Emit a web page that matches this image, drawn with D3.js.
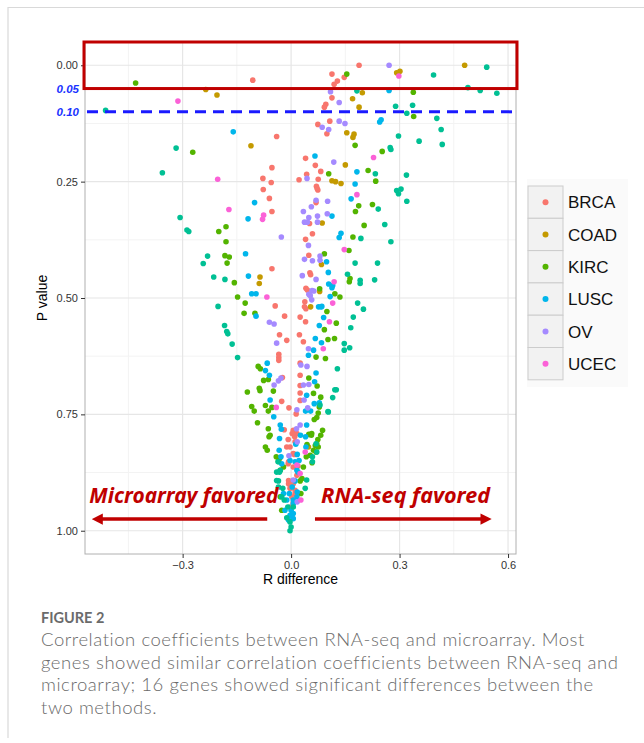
<!DOCTYPE html>
<html>
<head>
<meta charset="utf-8">
<script src="https://cdn.jsdelivr.net/npm/d3@7"></script>
<style>
  body { margin: 0; background: #fff; }
  svg { display: block; font-family: "Liberation Sans", Arial, sans-serif; }
</style>
</head>
<body>
<svg id="chart" width="644" height="743"></svg>
<script>
// series: [R difference, P value]
const categories = ['BRCA', 'COAD', 'KIRC', 'LUSC', 'OV', 'UCEC'];
const colors = ['#F8766D', '#C49A00', '#53B400', '#00B6EB', '#A58AFF', '#FB61D7'];
// one more cancer type is plotted but was left out of the printed legend
const unlistedColor = '#00C094';

const brca = [[-0.106,0.032],[0.188,0.000],[0.113,0.019],[0.147,0.026],[0.128,0.034],[0.119,0.041],[0.113,0.070],[0.096,0.084],[0.092,0.090],[0.074,0.127],[0.107,0.120],[-0.040,0.153],[0.099,0.147],[0.040,0.200],[0.067,0.215],[-0.053,0.220],[0.082,0.228],[0.043,0.234],[-0.078,0.243],[0.022,0.246],[0.075,0.245],[-0.055,0.252],[0.070,0.260],[0.072,0.265],[0.074,0.268],[-0.077,0.267],[-0.060,0.286],[0.069,0.295],[-0.053,0.314],[0.051,0.340],[0.059,0.362],[0.040,0.374],[0.049,0.408],[-0.053,0.437],[0.052,0.446],[0.054,0.450],[0.041,0.479],[0.045,0.483],[-0.044,0.517],[0.037,0.519],[0.038,0.508],[0.041,0.523],[-0.018,0.539],[0.025,0.541],[0.040,0.551],[-0.032,0.579],[-0.012,0.591],[0.023,0.579],[0.034,0.594],[-0.034,0.621],[-0.034,0.628],[-0.034,0.634],[-0.024,0.671],[0.025,0.640],[0.025,0.666],[0.025,0.688],[0.025,0.704],[0.025,0.720],[-0.026,0.722],[-0.006,0.736],[0.014,0.749],[-0.019,0.783],[0.006,0.784],[0.003,0.791],[-0.008,0.804],[-0.012,0.820],[0.010,0.798],[0.009,0.836],[-0.008,0.856],[0.019,0.861],[0.006,0.863],[0.016,0.881],[-0.007,0.899],[0.011,0.920],[0.006,0.940],[-0.007,0.892],[0.006,0.899],[-0.003,0.909],[0.011,0.913],[0.002,0.927],[-0.003,0.949],[0.016,0.791],[0.011,0.809],[-0.003,0.820],[0.006,0.834],[-0.007,0.852]];
const coad = [[-0.236,0.052],[-0.205,0.064],[0.480,0.000],[0.292,0.016],[0.301,0.013],[0.197,0.059],[0.170,0.072],[0.188,0.090],[-0.111,0.173],[0.154,0.145],[0.174,0.148],[0.171,0.155],[0.150,0.214],[0.113,0.248],[0.123,0.250],[0.138,0.254],[0.086,0.339],[0.084,0.428],[-0.086,0.455],[-0.088,0.469],[0.079,0.486],[0.054,0.519],[0.048,0.820]];
const kirc = [[-0.430,0.038],[0.154,0.019],[0.338,0.058],[0.339,0.110],[-0.272,0.187],[0.177,0.172],[0.252,0.185],[0.213,0.226],[0.104,0.233],[0.234,0.249],[0.187,0.302],[0.225,0.299],[0.178,0.314],[0.202,0.344],[-0.200,0.357],[-0.180,0.347],[0.171,0.369],[-0.180,0.379],[0.160,0.398],[-0.183,0.409],[-0.171,0.412],[0.092,0.405],[-0.177,0.425],[0.163,0.458],[0.161,0.465],[-0.157,0.467],[0.079,0.480],[0.121,0.491],[0.135,0.498],[-0.148,0.498],[-0.127,0.511],[-0.130,0.533],[-0.100,0.533],[0.099,0.529],[0.092,0.568],[0.125,0.554],[0.120,0.587],[0.102,0.589],[0.095,0.630],[0.069,0.627],[-0.091,0.647],[-0.085,0.652],[-0.076,0.677],[-0.063,0.675],[-0.088,0.694],[-0.086,0.699],[-0.121,0.702],[-0.049,0.700],[-0.109,0.733],[-0.102,0.743],[-0.093,0.768],[-0.071,0.731],[-0.063,0.743],[-0.053,0.735],[0.049,0.672],[0.072,0.689],[0.082,0.713],[0.062,0.705],[0.078,0.734],[0.071,0.757],[0.064,0.761],[0.075,0.747],[-0.063,0.781],[-0.058,0.795],[-0.061,0.798],[-0.071,0.820],[-0.066,0.827],[-0.041,0.841],[-0.032,0.845],[-0.035,0.851],[0.049,0.793],[0.056,0.795],[0.044,0.815],[0.042,0.841],[0.067,0.817],[0.074,0.804],[0.082,0.795],[0.087,0.784],[0.069,0.831],[0.058,0.854],[0.030,0.888],[0.034,0.863],[0.025,0.893],[0.027,0.920],[-0.030,0.927],[-0.026,0.956],[-0.021,0.863],[-0.030,0.870],[0.057,0.791],[0.071,0.813],[0.062,0.827],[0.075,0.820],[0.053,0.838]];
const lusc = [[0.271,0.054],[0.249,0.117],[0.245,0.122],[-0.160,0.143],[0.066,0.195],[0.182,0.229],[0.177,0.255],[-0.101,0.295],[0.166,0.287],[0.113,0.324],[-0.119,0.330],[0.138,0.361],[0.133,0.370],[-0.126,0.405],[0.098,0.422],[-0.118,0.453],[0.103,0.445],[0.104,0.470],[0.115,0.473],[0.113,0.478],[0.108,0.497],[-0.109,0.491],[-0.097,0.491],[0.083,0.519],[-0.097,0.539],[0.076,0.519],[0.085,0.518],[0.090,0.542],[0.078,0.559],[0.067,0.587],[0.062,0.612],[0.048,0.623],[0.084,0.596],[-0.066,0.640],[-0.071,0.656],[-0.060,0.666],[-0.058,0.719],[-0.048,0.755],[0.069,0.661],[0.065,0.680],[0.043,0.709],[0.064,0.727],[0.078,0.725],[0.040,0.743],[0.054,0.743],[0.043,0.773],[-0.030,0.773],[-0.027,0.782],[-0.032,0.802],[-0.033,0.827],[-0.028,0.841],[-0.026,0.856],[-0.003,0.849],[0.013,0.814],[0.026,0.795],[0.040,0.798],[0.041,0.820],[0.017,0.836],[0.022,0.849],[0.016,0.870],[0.011,0.852],[0.019,0.874],[0.011,0.893],[0.017,0.917],[0.006,0.934],[0.000,0.956],[0.006,0.974],[-0.005,0.920],[0.003,0.906],[-0.021,0.920],[-0.012,0.934],[0.006,0.942],[-0.017,0.956],[-0.003,0.967],[-0.007,0.977],[0.006,0.963],[0.016,0.927]];
const ov = [[0.271,0.000],[0.109,0.057],[0.133,0.080],[0.086,0.133],[0.104,0.138],[0.133,0.120],[0.149,0.125],[0.118,0.208],[0.044,0.243],[0.069,0.290],[0.101,0.292],[0.034,0.314],[0.056,0.304],[0.100,0.319],[0.073,0.324],[0.049,0.327],[0.037,0.337],[0.045,0.337],[0.073,0.337],[-0.027,0.369],[0.048,0.387],[0.037,0.417],[0.059,0.420],[0.080,0.410],[0.080,0.419],[0.031,0.452],[0.069,0.460],[0.058,0.484],[0.063,0.485],[0.049,0.492],[0.053,0.495],[0.057,0.504],[-0.060,0.552],[-0.047,0.556],[-0.040,0.597],[0.048,0.609],[0.027,0.644],[0.044,0.647],[0.034,0.687],[0.049,0.686],[0.036,0.719],[0.016,0.740],[0.046,0.736],[-0.035,0.678],[-0.028,0.672],[-0.047,0.687],[0.025,0.773],[0.015,0.781],[-0.006,0.839],[0.017,0.809],[0.017,0.938],[0.006,0.891]];
const ucec = [[-0.313,0.077],[0.298,0.023],[0.228,0.198],[-0.203,0.245],[0.182,0.278],[-0.172,0.310],[-0.076,0.322],[-0.079,0.331],[0.147,0.396],[0.119,0.465],[-0.067,0.498],[0.115,0.511],[0.106,0.551],[0.089,0.609],[-0.041,0.735],[0.039,0.831],[0.025,0.877],[0.016,0.859],[0.027,0.934]];
const unlisted = [[-0.513,0.097],[0.541,0.004],[0.394,0.021],[0.182,0.055],[0.336,0.086],[0.289,0.088],[0.320,0.103],[0.403,0.114],[0.489,0.048],[0.523,0.054],[0.569,0.060],[0.415,0.138],[-0.318,0.178],[-0.356,0.231],[0.297,0.152],[0.354,0.163],[0.418,0.170],[0.274,0.177],[0.276,0.181],[0.233,0.233],[0.319,0.236],[0.292,0.269],[0.304,0.266],[0.297,0.276],[0.320,0.292],[0.241,0.309],[-0.307,0.327],[0.259,0.342],[-0.288,0.354],[-0.283,0.357],[0.193,0.372],[0.276,0.379],[-0.231,0.410],[0.177,0.425],[0.239,0.425],[-0.243,0.426],[-0.214,0.455],[-0.183,0.460],[0.156,0.449],[0.191,0.462],[0.191,0.469],[0.231,0.461],[-0.202,0.518],[0.184,0.511],[0.200,0.524],[-0.184,0.559],[-0.178,0.572],[-0.175,0.577],[-0.163,0.599],[-0.148,0.628],[0.147,0.598],[0.147,0.612],[0.162,0.607],[0.172,0.541],[0.165,0.564],[0.128,0.652],[0.121,0.697],[0.125,0.697],[0.115,0.714],[0.102,0.744],[0.059,0.841],[0.069,0.813],[0.071,0.831],[-0.040,0.874],[-0.032,0.874],[-0.036,0.852],[-0.030,0.870],[-0.035,0.893],[-0.023,0.909],[-0.019,0.934],[-0.009,0.949],[0.006,0.949],[-0.012,0.972],[-0.003,0.981],[0.000,0.992],[-0.003,1.000],[0.059,0.852],[0.039,0.909],[0.043,0.891],[-0.040,0.892],[-0.035,0.906],[-0.026,0.927],[0.103,0.745],[0.080,0.730]];

const xTicks = [-0.3, 0.0, 0.3, 0.6];
const xMinor = [-0.45, -0.15, 0.15, 0.45];
const yTicks = [0, 0.25, 0.5, 0.75, 1];
const yMinor = [0.125, 0.375, 0.625, 0.875];
const cutoffTicks = [0.05, 0.10];

const caption = [
  'Correlation coefficients between RNA-seq and microarray. Most',
  'genes showed similar correlation coefficients between RNA-seq and',
  'microarray; 16 genes showed significant differences between the',
  'two methods.'
];

const panel = {left: 85, right: 516, top: 42, bottom: 554};
const svg = d3.select('#chart');

// outer frame of the figure box
svg.append('path')
  .attr('d', 'M8,738 V7.5 H644')
  .attr('fill', 'none')
  .attr('stroke', '#d9d9d9')
  .attr('stroke-width', 1.2);

const x = d3.scaleLinear().domain([-0.57, 0.622]).range([panel.left, panel.right]);
const y = d3.scaleLinear().domain([-0.05, 1.05]).range([panel.top, panel.bottom]);

const grid = svg.append('g').attr('class', 'grid');
grid.selectAll('line.xminor').data(xMinor).enter().append('line')
  .attr('x1', d => x(d)).attr('x2', d => x(d))
  .attr('y1', panel.top).attr('y2', panel.bottom)
  .attr('stroke', '#f3f3f3').attr('stroke-width', 1);
grid.selectAll('line.yminor').data(yMinor).enter().append('line')
  .attr('y1', d => y(d)).attr('y2', d => y(d))
  .attr('x1', panel.left).attr('x2', panel.right)
  .attr('stroke', '#f3f3f3').attr('stroke-width', 1);
grid.selectAll('line.xmajor').data(xTicks).enter().append('line')
  .attr('x1', d => x(d)).attr('x2', d => x(d))
  .attr('y1', panel.top).attr('y2', panel.bottom)
  .attr('stroke', '#e6e6e6').attr('stroke-width', 1.2);
grid.selectAll('line.ymajor').data(yTicks).enter().append('line')
  .attr('y1', d => y(d)).attr('y2', d => y(d))
  .attr('x1', panel.left).attr('x2', panel.right)
  .attr('stroke', '#e6e6e6').attr('stroke-width', 1.2);

svg.append('rect')
  .attr('x', panel.left).attr('y', panel.top)
  .attr('width', panel.right - panel.left).attr('height', panel.bottom - panel.top)
  .attr('fill', 'none').attr('stroke', '#b0b0b0').attr('stroke-width', 1);

// axes
const xAxis = svg.append('g')
  .attr('transform', `translate(0,${panel.bottom})`)
  .call(d3.axisBottom(x).tickValues(xTicks).tickFormat(d3.format('.1f')).tickSize(4).tickPadding(3));
const yAxis = svg.append('g')
  .attr('transform', `translate(${panel.left},0)`)
  .call(d3.axisLeft(y).tickValues(yTicks).tickFormat(d3.format('.2f')).tickSize(4).tickPadding(3));
[xAxis, yAxis].forEach(a => {
  a.select('.domain').remove();
  a.selectAll('.tick line').attr('stroke', '#333');
  a.selectAll('.tick text').attr('fill', '#333').style('font-size', '11px');
});

svg.selectAll('text.cutoff').data(cutoffTicks).enter().append('text')
  .attr('class', 'cutoff')
  .attr('x', panel.left - 6)
  .attr('y', d => y(d))
  .attr('dy', '0.35em')
  .attr('text-anchor', 'end')
  .attr('fill', '#1a33ff')
  .style('font-size', '11.5px')
  .style('font-weight', 'bold')
  .style('font-style', 'italic')
  .text(d => d.toFixed(2));

svg.append('text')
  .attr('x', (panel.left + panel.right) / 2)
  .attr('y', 584)
  .attr('text-anchor', 'middle')
  .style('font-size', '14px')
  .text('R difference');
svg.append('text')
  .attr('transform', `translate(47,${(panel.top + panel.bottom) / 2}) rotate(-90)`)
  .attr('text-anchor', 'middle')
  .style('font-size', '14px')
  .text('P value');

// points
const series = [brca, coad, kirc, lusc, ov, ucec, unlisted];
const seriesColors = colors.concat([unlistedColor]);
const pts = svg.append('g').attr('class', 'points');
series.forEach((s, i) => {
  pts.selectAll(null).data(s).enter().append('circle')
    .attr('cx', d => x(d[0]))
    .attr('cy', d => y(d[1]))
    .attr('r', 2.8)
    .attr('fill', seriesColors[i]);
});

// cutoff line and significance box
svg.append('line')
  .attr('x1', panel.left + 2).attr('x2', panel.right)
  .attr('y1', y(0.10)).attr('y2', y(0.10))
  .attr('stroke', '#1a1aff').attr('stroke-width', 3)
  .attr('stroke-dasharray', '11,7');
svg.append('rect')
  .attr('x', x(-0.57) - 1).attr('y', y(-0.05))
  .attr('width', x(0.622) - x(-0.57) + 2).attr('height', y(0.05) - y(-0.05))
  .attr('fill', 'none').attr('stroke', '#c00000').attr('stroke-width', 3);

// favoured-direction annotations
const red = '#c00000';
svg.append('defs').append('marker')
  .attr('id', 'head')
  .attr('viewBox', '0 0 10 10')
  .attr('refX', 2).attr('refY', 5)
  .attr('markerWidth', 3.2).attr('markerHeight', 3.2)
  .attr('orient', 'auto')
  .append('path').attr('d', 'M0,0 L10,5 L0,10 Z').attr('fill', red);
const arrows = [[-0.066, -0.527], [0.066, 0.530]];
svg.selectAll('line.arrow').data(arrows).enter().append('line')
  .attr('x1', d => x(d[0])).attr('x2', d => x(d[1]))
  .attr('y1', y(0.975)).attr('y2', y(0.975))
  .attr('stroke', red).attr('stroke-width', 3.5)
  .attr('marker-end', 'url(#head)');
const notes = [['Microarray favored', -0.558, 189], ['RNA-seq favored', 0.083, 169]];
svg.selectAll('text.note').data(notes).enter().append('text')
  .attr('x', d => x(d[1]))
  .attr('y', y(0.94))
  .attr('textLength', d => d[2])
  .attr('lengthAdjust', 'spacingAndGlyphs')
  .attr('fill', red)
  .style('font-family', '"Noto Sans", "DejaVu Sans", sans-serif')
  .style('font-size', '21px')
  .style('font-weight', 'bold')
  .style('font-style', 'italic')
  .text(d => d[0]);

// legend
const legend = svg.append('g').attr('transform', 'translate(528,186)');
legend.append('rect')
  .attr('x', -1).attr('y', -7).attr('width', 101).attr('height', 208)
  .attr('fill', '#fafafa');
const keys = legend.selectAll('g.key').data(categories).enter().append('g')
  .attr('transform', (d, i) => `translate(0,${i * 32.3})`);
keys.append('rect')
  .attr('width', 35).attr('height', 32.3)
  .attr('fill', '#f2f2f2').attr('stroke', '#cccccc').attr('stroke-width', 1);
keys.append('circle')
  .attr('cx', 17.5).attr('cy', 16.2).attr('r', 3)
  .attr('fill', (d, i) => colors[i]);
keys.append('text')
  .attr('x', 40).attr('y', 16.2).attr('dy', '0.36em')
  .style('font-size', '17px')
  .attr('fill', '#111')
  .text(d => d);

// caption
svg.append('text')
  .attr('x', 41).attr('y', 623)
  .attr('fill', '#6b6b6b')
  .style('font-family', 'Lato, "Open Sans", sans-serif')
  .style('font-size', '14.5px')
  .style('font-weight', 'bold')
  .text('FIGURE 2');
const capLines = svg.selectAll('text.caption').data(caption).enter().append('text')
  .attr('class', 'caption')
  .attr('x', 41)
  .attr('y', (d, i) => 646 + i * 22.5)
  .attr('fill', '#6b6b6b')
  .style('font-family', 'Lato, "Open Sans", sans-serif')
  .style('font-size', '18.5px')
  .style('font-weight', '300')
  .text(d => d);
// widen letter spacing so the second line spans the same width as in the print
const line2 = capLines.nodes()[1];
const spread = (577 - line2.getComputedTextLength()) / caption[1].length;
capLines.style('letter-spacing', `${Math.max(0, spread).toFixed(2)}px`);
</script>
</body>
</html>
